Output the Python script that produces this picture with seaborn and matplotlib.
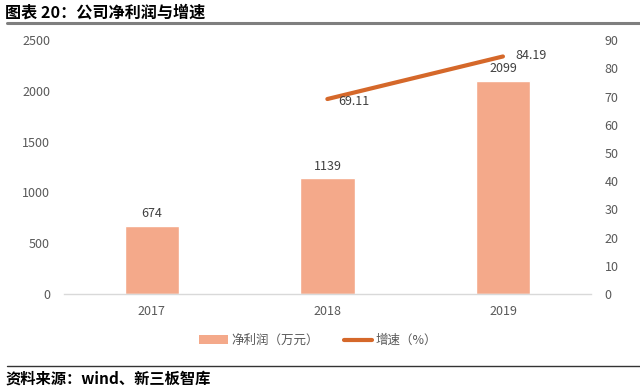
import matplotlib
matplotlib.use("Agg")
import matplotlib.pyplot as plt
import seaborn as sns
import pandas as pd
from matplotlib.patches import Patch
from matplotlib.lines import Line2D

years = ["2017", "2018", "2019"]
profit = [674, 1139, 2099]
growth_years = ["2018", "2019"]
growth = [69.11, 84.19]
title = "图表 20：公司净利润与增速"
source = "资料来源：wind、新三板智库"
bar_label_name = "净利润（万元）"
line_label_name = "增速（%）"

sns.set_theme(style="white")
plt.rcParams["font.family"] = ["Noto Sans CJK SC", "DejaVu Sans"]

bar_color = "#F4A98A"
line_color = "#D5682A"
tick_color = "#595959"
label_color = "#404040"

fig = plt.figure(figsize=(6.4, 3.89), dpi=100)
ax = fig.add_axes([0.1, 0.244, 0.823, 0.653])

df = pd.DataFrame({"year": years, "profit": profit})
sns.barplot(data=df, x="year", y="profit", order=years, color=bar_color,
            width=0.31, saturation=1, ax=ax)
ax.set_ylim(0, 2500)
ax.set_yticks(range(0, 2501, 500))
ax.bar_label(ax.containers[0], labels=[str(v) for v in profit], padding=4,
             fontsize=9, color=label_color)

ax2 = ax.twinx()
dg = pd.DataFrame({"year": growth_years, "growth": growth})
sns.pointplot(data=dg, x="year", y="growth", order=years, color=line_color,
              marker="", linewidth=3, errorbar=None, ax=ax2)
ax2.set_ylim(0, 90)
ax2.set_yticks(range(0, 91, 10))
for yr, g in zip(growth_years, growth):
    xi = years.index(yr)
    if yr == "2019":
        ax2.annotate(f"{g:.2f}", (xi, g), xytext=(9, 1), textcoords="offset points",
                     fontsize=9, color=label_color, ha="left", va="center")
    else:
        ax2.annotate(f"{g:.2f}", (xi, g), xytext=(8, -2), textcoords="offset points",
                     fontsize=9, color=label_color, ha="left", va="center")

for a in (ax, ax2):
    a.set_xlabel("")
    a.set_ylabel("")
    for s in a.spines.values():
        s.set_visible(False)
    a.tick_params(axis="both", length=0, labelsize=9, colors=tick_color)
    a.grid(False)
ax.tick_params(axis="x", pad=8)
ax.tick_params(axis="y", pad=10)
ax2.tick_params(axis="y", pad=10)
ax.spines["bottom"].set_visible(True)
ax.spines["bottom"].set_color("#D9D9D9")
ax.spines["bottom"].set_linewidth(1)
ax.set_xlim(-0.5, 2.5)
ax2.set_xlim(-0.5, 2.5)

handles = [Patch(facecolor=bar_color, edgecolor="none"),
           Line2D([0], [0], color=line_color, linewidth=3)]
fig.legend(handles, [bar_label_name, line_label_name], loc="center",
           bbox_to_anchor=(0.497, 0.125), ncol=2, frameon=False, fontsize=9,
           labelcolor=tick_color, handlelength=2.3, handletextpad=0.25,
           columnspacing=2.0)

fig.text(0.008, 0.968, title, fontsize=11.6, fontweight="bold", color="black",
         ha="left", va="center")
fig.add_artist(Line2D([0.011, 1.0], [0.94, 0.94], color="#7F7F7F", linewidth=2.2,
                      transform=fig.transFigure))
fig.add_artist(Line2D([0.011, 1.0], [0.059, 0.059], color="#333333", linewidth=1,
                      transform=fig.transFigure))
fig.text(0.008, 0.028, source, fontsize=11, fontweight="bold", color="black",
         ha="left", va="center")

fig.savefig("out.png", dpi=100)
